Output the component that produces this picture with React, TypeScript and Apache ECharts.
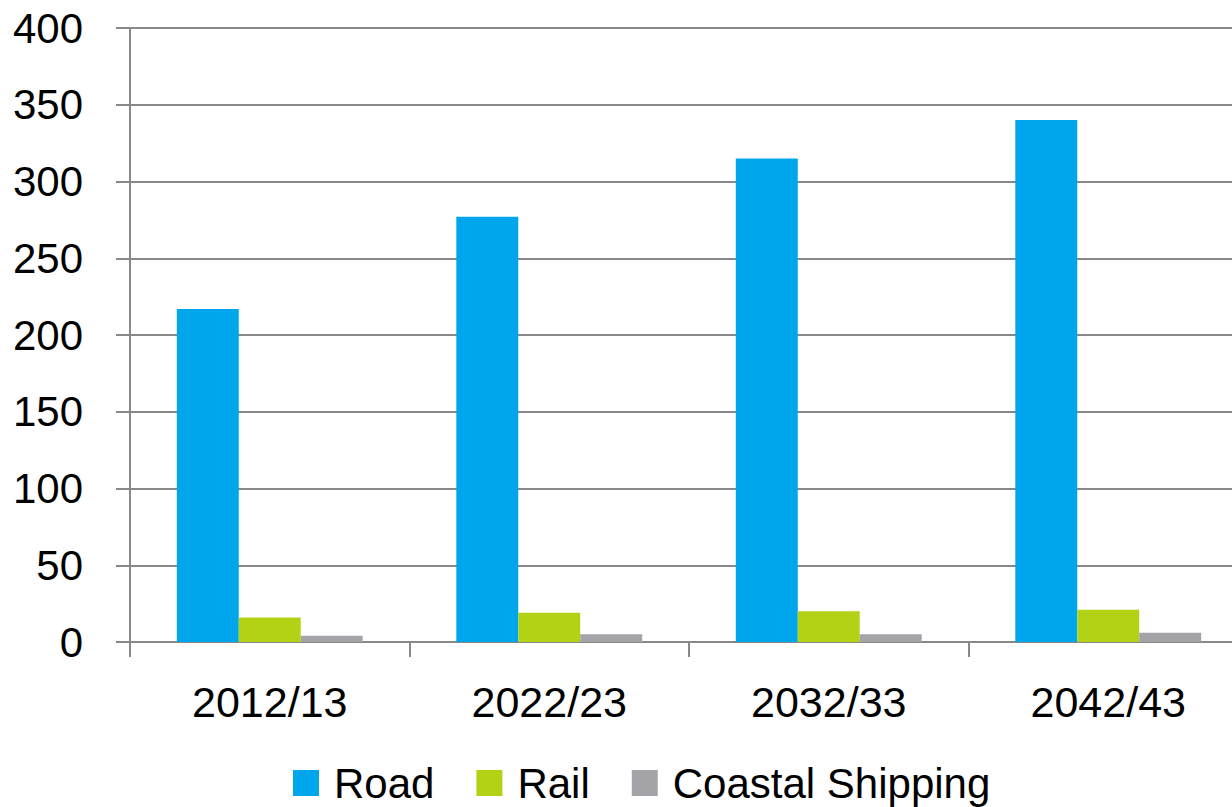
import React, { useEffect, useRef } from "react";
import * as echarts from "echarts";

const categories = ["2012/13", "2022/23", "2032/33", "2042/43"];
const road = [217, 277, 315, 340];
const rail = [16, 19, 20, 21];
const coastal = [4, 5, 5, 6];
const yTicks = { min: 0, max: 400, interval: 50 };

const FONT = "'Liberation Sans', Arial, sans-serif";

export default function App() {
  const ref = useRef<HTMLDivElement>(null);
  useEffect(() => {
    document.body.style.margin = "0";
    const chart = echarts.init(ref.current!, null, { renderer: "svg" });
    chart.setOption({
      animation: false,
      textStyle: { fontFamily: FONT },
      grid: { left: 130, top: 28, bottom: 165, right: 0 },
      legend: {
        data: ["Road", "Rail", "Coastal Shipping"],
        left: 288,
        top: 757,
        itemWidth: 26,
        itemHeight: 26,
        itemGap: 42,
        icon: "rect",
        textStyle: { fontSize: 42, color: "#000", fontFamily: FONT, padding: [0, 0, 0, 10] },
      },
      xAxis: {
        type: "category",
        data: categories,
        axisLine: { lineStyle: { color: "#888", width: 2 } },
        axisTick: { show: true, length: 15, lineStyle: { color: "#888", width: 2 } },
        axisLabel: { fontSize: 43, color: "#000", margin: 38, fontFamily: FONT },
      },
      yAxis: {
        type: "value",
        min: yTicks.min,
        max: yTicks.max,
        interval: yTicks.interval,
        axisLine: { show: true, lineStyle: { color: "#888", width: 2 } },
        axisTick: { show: true, length: 14, lineStyle: { color: "#888", width: 2 } },
        splitLine: { lineStyle: { color: "#888", width: 2 } },
        axisLabel: { fontSize: 42, color: "#000", margin: 47, fontFamily: FONT },
      },
      series: [
        { name: "Road", type: "bar", data: road, itemStyle: { color: "#00A6EB" }, barGap: "0%", barCategoryGap: "33.5%" },
        { name: "Rail", type: "bar", data: rail, itemStyle: { color: "#B4D215" } },
        { name: "Coastal Shipping", type: "bar", data: coastal, itemStyle: { color: "#A4A4A8" } },
      ],
    });
    return () => chart.dispose();
  }, []);
  return (
    <div style={{ width: 1232, height: 807, overflow: "hidden", position: "relative" }}>
      <div ref={ref} style={{ width: 1248, height: 807 }} />
    </div>
  );
}
